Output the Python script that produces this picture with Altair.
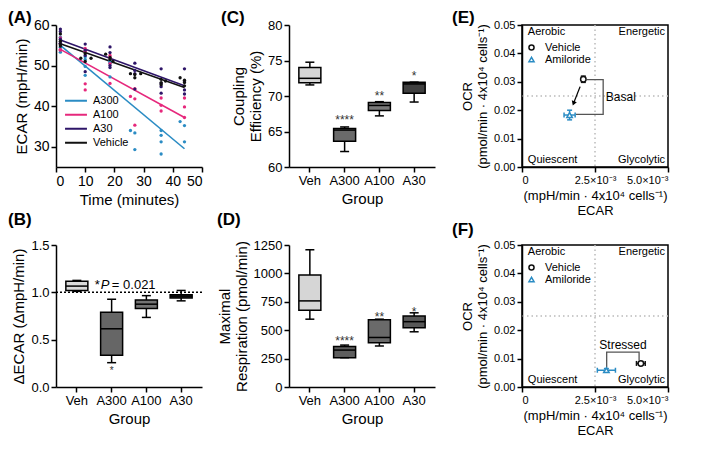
import altair as alt
import pandas as pd

FONT = "Liberation Sans"

# ---------------- Panel A data ----------------
a_groups = ["A300", "A100", "A30", "Vehicle"]
a_colors = ["#2b8cc4", "#e6287c", "#2e1568", "#111111"]

a300_time = [1.5, 1.5, 1.5, 1.5, 10, 10, 10, 10, 18.5, 18.5, 18.5, 18.5, 25.5, 27, 27, 36, 36, 36, 36, 42.5, 44, 44]
a300_ecar = [57.0, 55.5, 54.5, 53.3, 52.2, 51.5, 49.8, 47.6, 51.2, 50.8, 50.5, 47.2, 34.0, 33.4, 29.3, 34.0, 32.8, 31.2, 28.2, 36.2, 35.2, 31.2]
a100_time = [1.5, 1.5, 1.5, 1.5, 10, 10, 10, 10, 18.5, 18.5, 18.5, 18.5, 25.5, 27, 27, 27, 36, 36, 36, 44, 44, 44]
a100_ecar = [56.8, 55.5, 54.0, 53.8, 54.2, 53.5, 45.5, 44.0, 52.5, 52.0, 50.5, 45.6, 42.4, 44.3, 41.8, 35.3, 42.0, 40.2, 38.8, 42.0, 39.8, 37.2]
a30_time = [1.5, 1.5, 1.5, 1.5, 10, 10, 10, 10, 18.5, 18.5, 18.5, 18.5, 27, 27, 27, 27, 36, 36, 36, 36, 44, 44, 44, 44]
a30_ecar = [59.0, 58.4, 56.5, 55.5, 55.3, 53.8, 52.5, 48.5, 54.6, 53.2, 50.0, 49.5, 50.6, 48.8, 48.0, 44.2, 49.2, 45.6, 44.8, 43.2, 49.2, 46.0, 44.0, 43.0]
veh_time = [1.5, 1.5, 1.5, 1.5, 8.5, 10, 12, 10, 17, 18.5, 18.5, 19.5, 25.5, 27, 27, 29, 36, 36, 37.5, 36, 42.5, 44, 44, 44]
veh_ecar = [57.8, 56.0, 55.2, 54.8, 51.8, 51.0, 51.8, 53.0, 52.8, 52.0, 51.5, 51.0, 48.0, 47.8, 47.0, 48.0, 46.6, 45.8, 46.2, 45.3, 47.0, 46.4, 45.8, 45.0]

line_time = [1.5, 44]
a300_line = [55.0, 29.5]
a100_line = [54.0, 37.2]
a30_line = [56.3, 45.0]
veh_line = [55.4, 44.6]

# ---------------- Box panels data ----------------
box_groups = ["Veh", "A300", "A100", "A30"]

b_lo = [1.01, 0.257, 0.735, 0.91]
b_q1 = [1.02, 0.335, 0.83, 0.94]
b_med = [1.066, 0.615, 0.875, 0.96]
b_q3 = [1.116, 0.79, 0.92, 0.975]
b_hi = [1.126, 0.927, 0.965, 1.02]
b_fill = ["#dadada", "#666666", "#737373", "#333333"]

c_lo = [71.56, 62.18, 67.2, 69.15]
c_q1 = [71.87, 63.64, 67.96, 70.4]
c_med = [72.49, 65.2, 68.67, 71.7]
c_q3 = [74.0, 65.42, 69.1, 71.92]
c_hi = [74.76, 65.64, 69.2, 71.95]
c_fill = ["#d6d6d6", "#6a6a6a", "#7a7a7a", "#404040"]

d_lo = [597, 258, 361, 486]
d_q1 = [675, 258, 389, 522]
d_med = [758, 325, 436, 575]
d_q3 = [986, 356, 592, 625]
d_hi = [1208, 369, 597, 653]
d_fill = ["#d6d6d6", "#5e5e5e", "#6a6a6a", "#585858"]

b_star_group = ["A300"]
b_star_val = [0.133]
b_star_txt = ["*"]
c_star_group = ["A300", "A100", "A30"]
c_star_val = [66.0, 69.4, 72.3]
c_star_txt = ["****", "**", "*"]
d_star_group = ["A300", "A100", "A30"]
d_star_val = [368, 582, 629]
d_star_txt = ["****", "**", "*"]

# ---------------- Energy map data ----------------
e_names = ["Vehicle", "Amiloride"]
e_colors = ["#111111", "#2b8cc4"]
e_x = [0.00210, 0.00163]
e_xerr = [0.00003, 0.00019]
e_y = [0.0309, 0.0183]
e_yerr = [0.0011, 0.0017]
e_br_x = [0.00222, 0.00278, 0.00278, 0.00185]
e_br_y = [0.0308, 0.0308, 0.0185, 0.0185]
e_arrow = [0.00199, 0.0283, 0.001765, 0.0224]

f_x = [0.00407, 0.00289]
f_xerr = [0.00015, 0.00031]
f_y = [0.0083, 0.0059]
f_yerr = [0.0006, 0.0006]
f_br_x = [0.00290, 0.00290, 0.00401, 0.00401]
f_br_y = [0.0068, 0.0123, 0.0123, 0.0094]

quad_left = ["Aerobic", "Quiescent"]
quad_right = ["Energetic", "Glycolytic"]
quad_y = [0.0474, 0.0023]

W = 146
H = 142


def panel_label(txt, dx, dy):
    return alt.Chart(pd.DataFrame({"t": [txt]})).mark_text(
        align="left", baseline="alphabetic", fontSize=17, fontWeight="bold", font=FONT, color="black"
    ).encode(x=alt.value(dx), y=alt.value(dy), text="t:N")


# ---------------- Panel A ----------------
a_color_map = dict(zip(a_groups, a_colors))
pts = pd.DataFrame({
    "group": ["A300"] * len(a300_time) + ["A100"] * len(a100_time) + ["A30"] * len(a30_time) + ["Vehicle"] * len(veh_time),
    "time": a300_time + a100_time + a30_time + veh_time,
    "ecar": a300_ecar + a100_ecar + a30_ecar + veh_ecar,
})
pts["col"] = pts["group"].map(a_color_map)
lines = pd.DataFrame({
    "group": ["A300"] * 2 + ["A100"] * 2 + ["A30"] * 2 + ["Vehicle"] * 2,
    "time": line_time * 4,
    "ecar": a300_line + a100_line + a30_line + veh_line,
})
xA = alt.X("time:Q", scale=alt.Scale(domain=[0, 50], nice=False),
           axis=alt.Axis(values=[0, 10, 20, 30, 40, 50], labelFontSize=14, titleFontSize=15),
           title="Time (minutes)")
yA = alt.Y("ecar:Q", scale=alt.Scale(domain=[25, 60], nice=False, zero=False),
           axis=alt.Axis(values=[30, 40, 50, 60], labelFontSize=14, titleFontSize=15),
           title="ECAR (mpH/min)")
colA_scale = alt.Scale(domain=a_groups, range=a_colors)
lA = alt.Chart(lines).mark_line(strokeWidth=1.6).encode(
    x=xA, y=yA,
    color=alt.Color("group:N", scale=colA_scale,
                    legend=alt.Legend(title=None, orient="none", legendX=8, legendY=69,
                                      symbolType="stroke", symbolSize=480, symbolStrokeWidth=2,
                                      clipHeight=13.5, labelFontSize=11, labelFont=FONT, rowPadding=0,
                                      labelOffset=5)))
pA = alt.Chart(pts).mark_circle(size=11, opacity=1).encode(
    x=xA, y=yA, color=alt.Color("col:N", scale=None))
panelA = alt.layer(lA, pA, panel_label("(A)", -48, -2)).properties(width=W, height=H)


# ---------------- Box panels ----------------
def box_panel(lo, q1, med, q3, hi, fill, ydom, yvals, yfmt, ytitle, sg, sv, st, star_size, label, ldx, ldy, extra=None):
    df = pd.DataFrame({"group": box_groups, "lo": lo, "q1": q1, "med": med, "q3": q3, "hi": hi, "fill": fill})
    ysc = alt.Scale(domain=ydom, nice=False, zero=False)
    yax = alt.Axis(values=yvals, format=yfmt, labelFontSize=13, titleFontSize=15)

    def Y(f):
        return alt.Y(f, type="quantitative", scale=ysc, axis=yax, title=ytitle)

    X = alt.X("group:N", sort=box_groups,
              scale=alt.Scale(domain=box_groups, paddingInner=0, paddingOuter=0.1),
              axis=alt.Axis(labelAngle=0, labelFontSize=13, titleFontSize=15), title="Group")
    base = alt.Chart(df)
    whisk = base.mark_rule(color="black", strokeWidth=1.5).encode(x=X, y=Y("lo"), y2="hi:Q")
    box = base.mark_bar(size=22, stroke="black", strokeWidth=1.5).encode(
        x=X, y=Y("q1"), y2="q3:Q", fill=alt.Fill("fill:N", scale=None))
    medt = base.mark_tick(size=22, thickness=1.5, color="black", opacity=1).encode(x=X, y=Y("med"))
    caplo = base.mark_tick(size=9, thickness=1.5, color="black", opacity=1).encode(x=X, y=Y("lo"))
    caphi = base.mark_tick(size=9, thickness=1.5, color="black", opacity=1).encode(x=X, y=Y("hi"))
    sdf = pd.DataFrame({"group": sg, "v": sv, "s": st})
    stars = alt.Chart(sdf).mark_text(fontSize=star_size, font=FONT, color="#333333", baseline="alphabetic").encode(
        x=X, y=Y("v"), text="s:N")
    layers = [whisk, box, medt, caplo, caphi, stars]
    if extra is not None:
        layers += extra(X, Y)
    layers.append(panel_label(label, ldx, ldy))
    return alt.layer(*layers).properties(width=W, height=H)


def b_extra(X, Y):
    dot = alt.Chart(pd.DataFrame({"v": [1.0]})).mark_rule(color="black", strokeWidth=1.5, strokeDash=[2, 2]).encode(y=Y("v"))
    tdf = pd.DataFrame({"group": ["Veh"], "v": [1.03]})
    t1 = alt.Chart(tdf).mark_text(text="*", align="left", baseline="alphabetic", dx=18, fontSize=13, font=FONT).encode(x=X, y=Y("v"))
    t2 = alt.Chart(tdf).mark_text(text="P", align="left", baseline="alphabetic", dx=24, fontSize=13, font=FONT, fontStyle="italic").encode(x=X, y=Y("v"))
    t3 = alt.Chart(tdf).mark_text(text="= 0.021", align="left", baseline="alphabetic", dx=35, fontSize=13, font=FONT).encode(x=X, y=Y("v"))
    return [dot, t1, t2, t3]


panelB = box_panel(b_lo, b_q1, b_med, b_q3, b_hi, b_fill, [0, 1.5], [0, 0.5, 1.0, 1.5], ".1f",
                   "ΔECAR (ΔmpH/min)", b_star_group, b_star_val, b_star_txt, 10, "(B)", -48, -20, b_extra)
panelC = box_panel(c_lo, c_q1, c_med, c_q3, c_hi, c_fill, [60, 80], [60, 65, 70, 75, 80], "d",
                   ["Coupling", "Efficiency (%)"], c_star_group, c_star_val, c_star_txt, 12, "(C)", -68, -2)
panelD = box_panel(d_lo, d_q1, d_med, d_q3, d_hi, d_fill, [0, 1250], [0, 250, 500, 750, 1000, 1250], "d",
                   ["Maximal", "Respiration (pmol/min)"], d_star_group, d_star_val, d_star_txt, 12, "(D)", -72, -20)


# ---------------- Energy map panels ----------------
def quad_panel(xs, xerr, ys, yerr, brx, bry, br_text, br_tx, br_ty, br_align, label, ldx, ldy, arrow=None):
    xsc = alt.Scale(domain=[0, 0.005], nice=False)
    ysc = alt.Scale(domain=[0, 0.05], nice=False)
    xax = alt.Axis(values=[0, 0.0025, 0.005], labelFontSize=11, titleFontSize=13, titleFontWeight="normal",
                   labelExpr="datum.value == 0 ? '0' : format(datum.value * 1000, '.1f') + '×10⁻³'")
    yax = alt.Axis(values=[0, 0.01, 0.02, 0.03, 0.04, 0.05], format=".2f", labelFontSize=11, titleFontSize=13)
    xtitle = ["(mpH/min · 4x10⁴ cells⁻¹)", "ECAR"]
    ytitle = ["OCR", "(pmol/min · 4x10⁴ cells⁻¹)"]

    def X(f):
        return alt.X(f, type="quantitative", scale=xsc, axis=xax, title=xtitle)

    def Y(f):
        return alt.Y(f, type="quantitative", scale=ysc, axis=yax, title=ytitle)

    df = pd.DataFrame({"name": e_names, "x": xs, "y": ys, "col": e_colors,
                       "xlo": [a - b for a, b in zip(xs, xerr)], "xhi": [a + b for a, b in zip(xs, xerr)],
                       "ylo": [a - b for a, b in zip(ys, yerr)], "yhi": [a + b for a, b in zip(ys, yerr)]})
    cs = alt.Scale(domain=e_names, range=e_colors)
    ss = alt.Scale(domain=e_names, range=["circle", "triangle-up"])
    leg = alt.Legend(title=None, orient="none", legendX=4, legendY=17, labelFontSize=11, labelFont=FONT,
                     symbolSize=26, symbolStrokeWidth=1.5, rowPadding=0, clipHeight=11, labelOffset=8)
    cnol = alt.Color("col:N", scale=None)
    base = alt.Chart(df)
    vline = alt.Chart(pd.DataFrame({"v": [0.0025]})).mark_rule(color="#bbbbbb", strokeWidth=1.5, strokeDash=[1.5, 3]).encode(x=X("v"))
    hline = alt.Chart(pd.DataFrame({"v": [0.025]})).mark_rule(color="#bbbbbb", strokeWidth=1.5, strokeDash=[1.5, 3]).encode(y=Y("v"))
    ql = alt.Chart(pd.DataFrame({"t": quad_left, "x": [0.0002, 0.0002], "y": quad_y})).mark_text(
        align="left", baseline="middle", fontSize=11, font=FONT, color="black").encode(x=X("x"), y=Y("y"), text="t:N")
    qr = alt.Chart(pd.DataFrame({"t": quad_right, "x": [0.0049, 0.0049], "y": quad_y})).mark_text(
        align="right", baseline="middle", fontSize=11, font=FONT, color="black").encode(x=X("x"), y=Y("y"), text="t:N")
    brdf = pd.DataFrame({"x": brx, "y": bry, "o": [0, 1, 2, 3]})
    br = alt.Chart(brdf).mark_line(color="#555555", strokeWidth=1.3).encode(x=X("x"), y=Y("y"), order="o:Q")
    brt = alt.Chart(pd.DataFrame({"t": [br_text], "x": [br_tx], "y": [br_ty]})).mark_text(
        align=br_align, baseline="middle", fontSize=12, font=FONT, color="black").encode(x=X("x"), y=Y("y"), text="t:N")
    exr = base.mark_rule(strokeWidth=1.5).encode(x=X("xlo"), x2="xhi:Q", y=Y("y"), color=cnol)
    eyr = base.mark_rule(strokeWidth=1.5).encode(y=Y("ylo"), y2="yhi:Q", x=X("x"), color=cnol)
    cx1 = base.mark_tick(orient="vertical", size=5, thickness=1.5, opacity=1).encode(x=X("xlo"), y=Y("y"), color=cnol)
    cx2 = base.mark_tick(orient="vertical", size=5, thickness=1.5, opacity=1).encode(x=X("xhi"), y=Y("y"), color=cnol)
    cy1 = base.mark_tick(orient="horizontal", size=5, thickness=1.5, opacity=1).encode(x=X("x"), y=Y("ylo"), color=cnol)
    cy2 = base.mark_tick(orient="horizontal", size=5, thickness=1.5, opacity=1).encode(x=X("x"), y=Y("yhi"), color=cnol)
    pts_ = base.mark_point(filled=False, strokeWidth=1.5, size=30, opacity=1, fill="white", fillOpacity=1).encode(
        x=X("x"), y=Y("y"),
        color=alt.Color("name:N", scale=cs, legend=leg),
        shape=alt.Shape("name:N", scale=ss, legend=leg))
    layers = [vline, hline, ql, qr, br, brt, exr, eyr, cx1, cx2, cy1, cy2, pts_]
    if arrow is not None:
        adf = pd.DataFrame({"x": [arrow[0]], "y": [arrow[1]], "x2": [arrow[2]], "y2": [arrow[3]]})
        ar = alt.Chart(adf).mark_rule(color="black", strokeWidth=1.3).encode(x=X("x"), y=Y("y"), x2="x2:Q", y2="y2:Q")
        ah = alt.Chart(adf).mark_point(shape="triangle-up", filled=True, size=28, angle=200, color="black", opacity=1).encode(
            x=X("x2"), y=Y("y2"))
        layers += [ar, ah]
    layers.append(panel_label(label, ldx, ldy))
    return alt.layer(*layers).properties(
        width=W, height=H, view=alt.ViewBackground(stroke="black", strokeWidth=1.5))


panelE = quad_panel(e_x, e_xerr, e_y, e_yerr, e_br_x, e_br_y, "Basal", 0.00287, 0.0245, "left",
                    "(E)", -70, -2, arrow=e_arrow)
panelF = quad_panel(f_x, f_xerr, f_y, f_yerr, f_br_x, f_br_y, "Stressed", 0.00346, 0.0148, "center",
                    "(F)", -70, -10)

chart = alt.concat(panelA, panelC, panelE, panelB, panelD, panelF, columns=3,
                   spacing={"row": 78, "column": 87}, bounds="flush").resolve_scale(
    color="independent", shape="independent").properties(padding=0).configure(
    font=FONT).configure_view(stroke=None).configure_axis(
    labelFont=FONT, titleFont=FONT, labelColor="black", titleColor="black", titleFontWeight="normal",
    domainColor="black", tickColor="black", domainWidth=1.5, tickWidth=1.5, tickSize=5, grid=False,
    labelPadding=2, titlePadding=4)

chart.save("out.html", embed_options={"renderer": "svg", "actions": False})
